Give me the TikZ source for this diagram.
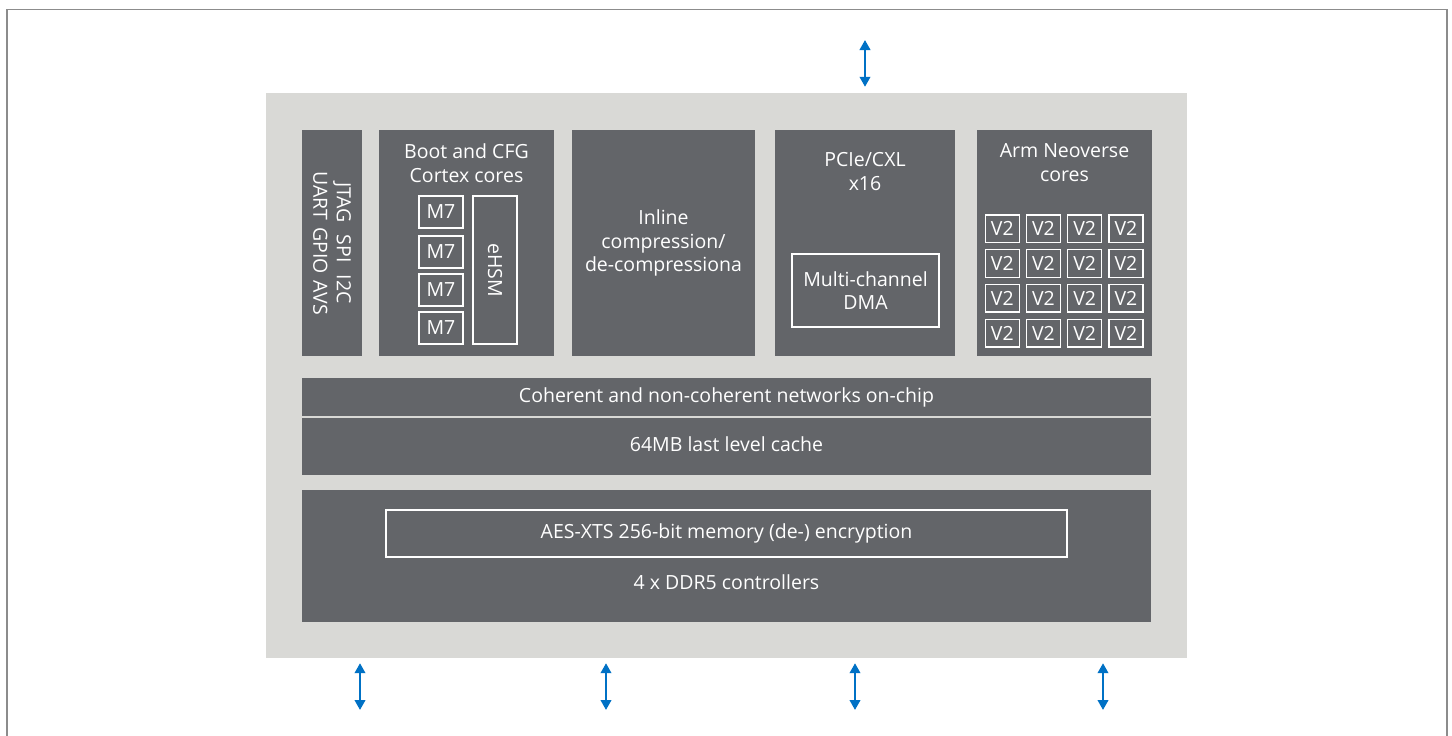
\documentclass[tikz,border=0pt]{standalone}
\usepackage{fontspec}
\setmainfont{Open Sans}
\usepackage{tikz}
\usetikzlibrary{arrows.meta}
\definecolor{chipgray}{HTML}{D9D9D6}
\definecolor{blkgray}{HTML}{636569}
\definecolor{linkblue}{HTML}{0071C5}
\definecolor{framegray}{HTML}{8C8C8C}
\tikzset{
  blk/.style={fill=blkgray, inner sep=0pt, outer sep=0pt, text=white, align=center, font=\fontsize{19.5}{23.5}\selectfont},
  sub/.style={draw=white, line width=1.3pt, inner sep=0pt, text=white, align=center, font=\fontsize{19.5}{23.5}\selectfont},
  lbl/.style={text=white, align=center, inner sep=0pt, font=\fontsize{19.5}{23.5}\selectfont},
  link/.style={{Triangle[length=10pt,width=10.5pt]}-{Triangle[length=10pt,width=10.5pt]}, line width=2.3pt, linkblue}
}
\begin{document}
\begin{tikzpicture}[x=1pt,y=-1pt]
\useasboundingbox (0,0) rectangle (1452,736);
\draw[framegray, line width=1.5pt] (7,736) -- (7,9.5) -- (1447,9.5) -- (1447,736);
\node[fill=chipgray, inner sep=0pt, minimum width=921pt, minimum height=565pt] (chip) at (726.5,375.5) {};
% top row
\node[blk, minimum width=60pt, minimum height=226pt] (io) at (332,243) {};
\node[lbl, rotate=-90] (iotxt) at (io.center) {JTAG\hspace{12pt}SPI\hspace{12pt}I2C\\UART\hspace{7pt}GPIO\hspace{7pt}AVS};
\node[blk, minimum width=175pt, minimum height=226pt] (boot) at (466.5,243) {};
\node[lbl] (boottxt) at (466.5,163.4) {Boot and CFG\\Cortex cores};
\foreach \y [count=\i] in {212,252,290,328}
  \node[sub, minimum width=44pt, minimum height=32pt] (m\i) at (441,\y) {M7};
\node[sub, minimum width=44pt, minimum height=148pt] (ehsm) at (495,270) {\rotatebox{-90}{eHSM}};
\node[blk, minimum width=183pt, minimum height=226pt] (inl) at (663.5,243) {Inline\\compression/\\de-compressiona};
\node[blk, minimum width=180pt, minimum height=226pt] (pcie) at (865,243) {};
\node[lbl] (pcietxt) at (865,171.4) {PCIe/CXL\\x16};
\node[sub, minimum width=147pt, minimum height=73pt] (dma) at (865.5,290.5) {Multi-channel\\DMA};
\node[blk, minimum width=175pt, minimum height=226pt] (arm) at (1064.5,243) {};
\node[lbl] (armtxt) at (1064.5,162.4) {Arm Neoverse\\cores};
\foreach \r in {0,...,3}
  \foreach \c in {0,...,3}
    \node[sub, minimum width=34pt, minimum height=27.5pt] (v\r\c) at ({1002.3+41.2*\c},{228.7+34.8*\r}) {V2};
% bands
\node[blk, minimum width=849pt, minimum height=38pt] (noc) at (726.5,397) {Coherent and non-coherent networks on-chip};
\node[blk, minimum width=849pt, minimum height=57pt] (llc) at (726.5,446.5) {};
\node[lbl] (llctxt) at (726.5,444) {64MB last level cache};
\node[blk, minimum width=849pt, minimum height=132pt] (ddr) at (726.5,556) {};
\node[sub, minimum width=681pt, minimum height=47pt] (aes) at (726.5,533.5) {AES-XTS 256-bit memory (de-) encryption};
\node[lbl] (ddrtxt) at (726.5,582) {4 x DDR5 controllers};
% links
\coordinate (t1) at (865,40);
\draw[link] (t1) -- ([yshift=6pt]chip.north -| t1);
\foreach \x [count=\i] in {360,606,855,1103} {
  \coordinate (b\i) at (\x,710);
  \draw[link] ([yshift=-5pt]chip.south -| b\i) -- (b\i);
}
\end{tikzpicture}
\end{document}
